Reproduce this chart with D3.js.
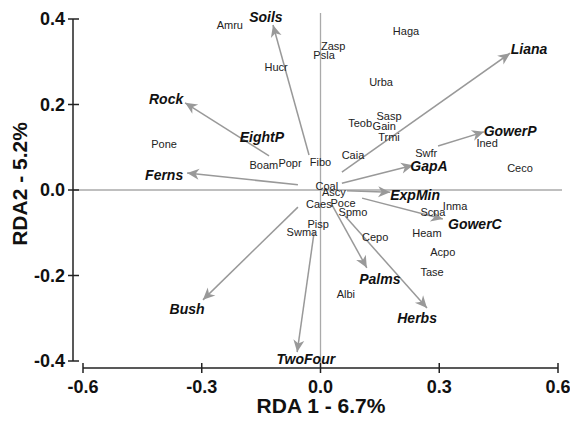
<!DOCTYPE html>
<meta charset="utf-8">
<style>
body { margin: 0; background: #fff; }
text { font-family: "Liberation Sans", Arial, Helvetica, sans-serif; }
.sp { font-size: 11px; fill: #222; text-anchor: middle; }
.env { font-size: 14px; font-weight: bold; font-style: italic; fill: #111; text-anchor: middle; }
.tick { font-size: 18px; font-weight: bold; fill: #111; }
.title { font-size: 21px; font-weight: bold; fill: #111; text-anchor: middle; }
</style>
<body>
<script src="https://cdn.jsdelivr.net/npm/d3@7"></script>
<script>

var width = 570,
    height = 425;

// species scores
var species  = ["Amru","Hucr","Zasp","Psla","Haga","Urba","Sasp","Teob","Gain","Trmi","Caia","Swfr","Ined","Ceco","Fibo","Popr","Boam","Pone","Coal","Ascy","Caes","Poce","Spmo","Pisp","Swma","Cepo","Heam","Scna","Inma","Acpo","Tase","Albi"];
var speciesX = [-0.229,-0.112,0.032,0.009,0.216,0.153,0.173,0.100,0.161,0.173,0.082,0.267,0.421,0.504,0.000,-0.077,-0.143,-0.395,0.016,0.034,-0.004,0.057,0.082,-0.006,-0.047,0.138,0.269,0.284,0.340,0.309,0.282,0.064];
var speciesY = [0.386,0.288,0.337,0.316,0.372,0.253,0.173,0.157,0.150,0.124,0.082,0.087,0.110,0.051,0.066,0.063,0.058,0.108,0.009,-0.005,-0.033,-0.030,-0.051,-0.080,-0.098,-0.110,-0.101,-0.051,-0.037,-0.145,-0.192,-0.243];

// environmental variable labels
var envNames  = ["Soils","Rock","EightP","Ferns","Liana","GowerP","GapA","ExpMin","GowerC","Palms","Herbs","TwoFour","Bush"];
var envLabelX = [-0.138,-0.390,-0.148,-0.395,0.527,0.479,0.274,0.239,0.390,0.150,0.244,-0.037,-0.337];
var envLabelY = [0.405,0.213,0.124,0.035,0.330,0.138,0.056,-0.012,-0.080,-0.208,-0.299,-0.395,-0.278];

// biplot arrows (start and tip)
var arrowNames = ["Soils","Rock","Ferns","Bush","TwoFour","Palms","Herbs","ExpMin","GowerC","GapA","Liana","GowerP"];
var arrowX0 = [-0.029,-0.130,-0.057,-0.057,-0.016,0.029,0.062,0.067,0.105,0.054,0.054,0.297];
var arrowY0 = [0.082,0.080,0.012,-0.040,-0.098,-0.035,-0.061,-0.002,-0.019,0.016,0.042,0.103];
var arrowX1 = [-0.120,-0.342,-0.337,-0.297,-0.059,0.117,0.269,0.176,0.309,0.234,0.479,0.413];
var arrowY1 = [0.386,0.204,0.040,-0.257,-0.379,-0.182,-0.276,-0.005,-0.068,0.058,0.320,0.136];

var xTicks = [-0.6,-0.3,0.0,0.3,0.6];
var yTicks = [-0.4,-0.2,0.0,0.2,0.4];

var x = d3.scaleLinear().domain([-0.6, 0.6]).range([83, 558]);
var y = d3.scaleLinear().domain([-0.4, 0.4]).range([361, 19]);

// plain hyphen for negatives, like the original plot
function fmt(d) { return d.toFixed(1); }

var svg = d3.select("body").append("svg")
    .attr("width", width)
    .attr("height", height);

svg.append("defs").append("marker")
    .attr("id", "head")
    .attr("markerUnits", "userSpaceOnUse")
    .attr("viewBox", "-13 -7 15 14")
    .attr("refX", 0)
    .attr("refY", 0)
    .attr("markerWidth", 15)
    .attr("markerHeight", 14)
    .attr("orient", "auto")
  .append("path")
    .attr("d", "M0,0L-12,-5.5L-8.5,0L-12,5.5Z")
    .attr("fill", "#999");

/*
  zero lines
*/
svg.append("line")
    .attr("x1", 73).attr("x2", 562)
    .attr("y1", y(0)).attr("y2", y(0))
    .attr("stroke", "#aaa").attr("stroke-width", 1.3);

svg.append("line")
    .attr("x1", x(0)).attr("x2", x(0))
    .attr("y1", 13).attr("y2", 368)
    .attr("stroke", "#aaa").attr("stroke-width", 1.3);

/*
  axes
*/
var axisG = svg.append("g").attr("stroke", "#222").attr("stroke-width", 1.5);

axisG.append("line")
    .attr("x1", x(-0.6)).attr("x2", x(0.6))
    .attr("y1", 368).attr("y2", 368);
axisG.selectAll(".xt").data(xTicks).enter().append("line")
    .attr("x1", function(d) { return x(d); })
    .attr("x2", function(d) { return x(d); })
    .attr("y1", 363).attr("y2", 373);

axisG.append("line")
    .attr("x1", 73).attr("x2", 73)
    .attr("y1", y(0.4)).attr("y2", y(-0.4));
axisG.selectAll(".yt").data(yTicks).enter().append("line")
    .attr("x1", 68).attr("x2", 79)
    .attr("y1", function(d) { return y(d); })
    .attr("y2", function(d) { return y(d); });

svg.selectAll(".xl").data(xTicks).enter().append("text")
    .attr("class", "tick")
    .attr("text-anchor", "middle")
    .attr("x", function(d) { return x(d); })
    .attr("y", 393)
    .text(fmt);

svg.selectAll(".yl").data(yTicks).enter().append("text")
    .attr("class", "tick")
    .attr("text-anchor", "end")
    .attr("x", 65)
    .attr("y", function(d) { return y(d); })
    .attr("dy", "0.35em")
    .text(fmt);

svg.append("text")
    .attr("class", "title")
    .attr("x", 321).attr("y", 413)
    .text("RDA 1 - 6.7%");

svg.append("text")
    .attr("class", "title")
    .attr("transform", "translate(27,184) rotate(-90)")
    .text("RDA2 - 5.2%");

/*
  arrows
*/
svg.selectAll(".arrow").data(arrowNames).enter().append("line")
    .attr("class", "arrow")
    .attr("x1", function(d, i) { return x(arrowX0[i]); })
    .attr("y1", function(d, i) { return y(arrowY0[i]); })
    .attr("x2", function(d, i) { return x(arrowX1[i]); })
    .attr("y2", function(d, i) { return y(arrowY1[i]); })
    .attr("stroke", "#999")
    .attr("stroke-width", 1.5)
    .attr("marker-end", "url(#head)");

/*
  labels
*/
svg.selectAll(".sp").data(species).enter().append("text")
    .attr("class", "sp")
    .attr("x", function(d, i) { return x(speciesX[i]); })
    .attr("y", function(d, i) { return y(speciesY[i]); })
    .attr("dy", "0.35em")
    .text(function(d) { return d; });

svg.selectAll(".env").data(envNames).enter().append("text")
    .attr("class", "env")
    .attr("x", function(d, i) { return x(envLabelX[i]); })
    .attr("y", function(d, i) { return y(envLabelY[i]); })
    .attr("dy", "0.35em")
    .text(function(d) { return d; });

</script>
